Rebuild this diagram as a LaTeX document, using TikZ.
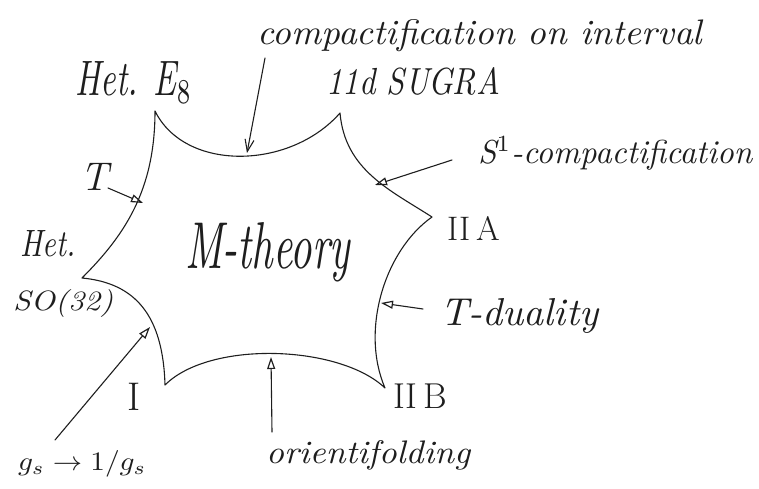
\documentclass[tikz,border=0pt]{standalone}
\usetikzlibrary{arrows.meta}
\newcommand\labw[3]{\resizebox{#1pt}{#2pt}{\itshape #3}}
\definecolor{ink}{RGB}{30,30,30}
\tikzset{
  pen/.style={draw=ink, line width=1.1pt, line cap=round, line join=round},
  arr/.style={pen, -{Triangle[open, length=12pt, width=8pt, line width=1.2pt]}},
  lab/.style={text=ink, inner sep=0pt, anchor=base west},
}
\begin{document}
\begin{tikzpicture}[x=1pt, y=-1pt]
\useasboundingbox (0,0) rectangle (759,489);
% cusps
\coordinate (A) at (155,111);
\coordinate (B) at (340,113);
\coordinate (C) at (432,217);
\coordinate (D) at (385,388);
\coordinate (E) at (165,385);
\coordinate (F) at (82,278);
\draw[pen] (A) .. controls (185,172) and (290,170) .. (B)
  .. controls (345,170) and (390,190) .. (C)
  .. controls (385,250) and (360,330) .. (D)
  .. controls (340,345) and (210,340) .. (E)
  .. controls (163,315) and (135,283) .. (F)
  .. controls (125,235) and (155,190) .. (A);
% labels
\node[lab] (cpt) at (257,45) {\labw{445}{25}{compactification on interval}};
\node[lab] (e8) at (75,96) {\labw{117}{34}{Het. E$_8$}};
\node[lab] (sugra) at (326,95) {\labw{174}{27}{11d SUGRA}};
\node[lab] (s1) at (478,164) {\labw{274}{27}{S$^1$-compactification}};
\node[lab] (t) at (80,190) {\fontsize{40}{40}\selectfont\itshape T};
\node[lab] (het) at (20,256) {\labw{55}{26}{Het.}};
\node[lab] (so) at (13,310) {\labw{100}{21}{SO(32)}};
\node[lab] (m) at (185,268) {\labw{165}{46}{M-theory}};
\node[lab] (iia) at (447,240) {\fontsize{34}{34}\selectfont\upshape II\,A};
\node[lab] (td) at (440,325) {\labw{158}{27}{T-duality}};
\node[lab] (iib) at (393,408) {\fontsize{36}{36}\selectfont\upshape II\,B};
\node[lab] (one) at (127,410) {\fontsize{40}{40}\selectfont\upshape I};
\node[lab] (gs) at (18,470) {\labw{128}{20}{$g_s\to 1/g_s$}};
\node[lab] (ori) at (266,463) {\labw{204}{23}{orientifolding}};
% arrow end points
\coordinate (a1s) at (265,58);   \coordinate (a1e) at (247,153);
\coordinate (a2s) at (108,188);  \coordinate (a2e) at (143,203);
\coordinate (a3s) at (452,160);  \coordinate (a3e) at (375,185);
\coordinate (a4s) at (423,309);  \coordinate (a4e) at (381,303);
\coordinate (a5s) at (55,440);   \coordinate (a5e) at (150,327);
\coordinate (a6s) at (272,432);  \coordinate (a6e) at (271,357);
\draw[pen, -{Straight Barb[length=12pt, width=9pt]}] (a1s) -- (a1e);
\draw[arr] (a2s) -- (a2e);
\draw[arr] (a3s) -- (a3e);
\draw[arr] (a4s) -- (a4e);
\draw[arr] (a5s) -- (a5e);
\draw[arr] (a6s) -- (a6e);
\end{tikzpicture}
\end{document}
